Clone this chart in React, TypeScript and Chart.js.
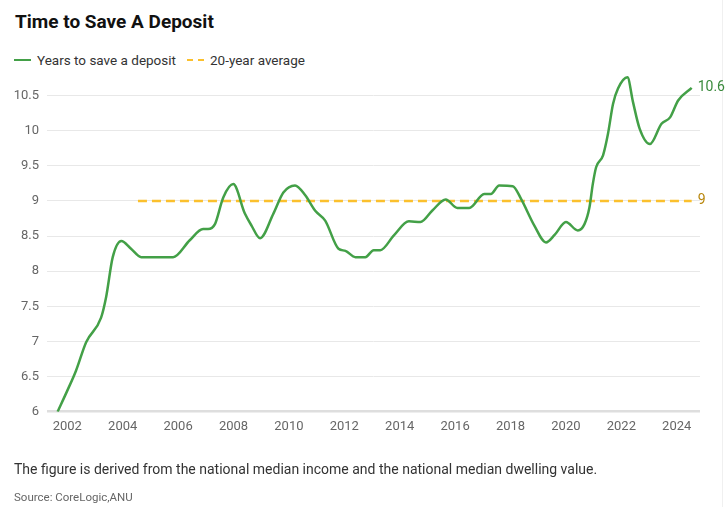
import React, { useEffect, useRef } from "react";
import { Chart, registerables } from "chart.js";

Chart.register(...registerables);

const FONT = "Roboto, 'Noto Sans', sans-serif";

// Years (fractional, quarterly-ish) and "years to save a deposit"
const years: number[] = [
  2001.65, 2002.0, 2002.31, 2002.68, 2003.22, 2003.4, 2003.64, 2003.95, 2004.3, 2004.67,
  2005.21, 2005.82, 2006.42, 2006.9, 2007.08, 2007.33, 2007.63, 2007.99, 2008.41, 2008.65,
  2008.96, 2009.44, 2009.8, 2010.22, 2010.59, 2010.95, 2011.31, 2011.79, 2012.04, 2012.4,
  2012.76, 2013.06, 2013.3, 2013.79, 2014.33, 2014.75, 2015.17, 2015.66, 2016.08, 2016.51,
  2017.05, 2017.29, 2017.59, 2018.08, 2018.38, 2018.86, 2019.28, 2019.6, 2020.0, 2020.43,
  2020.67, 2020.85, 2020.97, 2021.09, 2021.34, 2021.52, 2021.7, 2021.88, 2022.22, 2022.42,
  2022.66, 2023.03, 2023.45, 2023.76, 2024.05, 2024.54,
];
const deposit: number[] = [
  6.0, 6.3, 6.58, 6.99, 7.34, 7.63, 8.2, 8.43, 8.32, 8.2,
  8.2, 8.2, 8.44, 8.6, 8.6, 8.67, 9.05, 9.24, 8.82, 8.65,
  8.47, 8.82, 9.12, 9.22, 9.08, 8.86, 8.72, 8.32, 8.29, 8.2,
  8.2, 8.3, 8.3, 8.51, 8.71, 8.7, 8.86, 9.02, 8.9, 8.9,
  9.1, 9.1, 9.22, 9.21, 9.03, 8.65, 8.41, 8.52, 8.7, 8.58,
  8.67, 8.91, 9.24, 9.48, 9.65, 9.96, 10.38, 10.6, 10.76, 10.41,
  10.03, 9.81, 10.1, 10.19, 10.43, 10.61,
];
const avgYears: number[] = [2004.55, 2024.54];
const avgValues: number[] = [9, 9];
const xTickYears: number[] = [2002, 2004, 2006, 2008, 2010, 2012, 2014, 2016, 2018, 2020, 2022, 2024];
const yTicks: number[] = [6, 6.5, 7, 7.5, 8, 8.5, 9, 9.5, 10, 10.5];
const lastLabel = "10.6";
const avgLabel = "9";

const GREEN = "#43a047";
const YELLOW = "#fbc02d";

const endLabels = {
  id: "endLabels",
  afterDatasetsDraw(chart: any) {
    const ctx = chart.ctx;
    ctx.save();
    ctx.font = `14px ${FONT}`;
    ctx.textAlign = "left";
    ctx.textBaseline = "middle";
    const m0 = chart.getDatasetMeta(0);
    const p0 = m0.data[m0.data.length - 1];
    ctx.fillStyle = "#3a8a3c";
    ctx.fillText(lastLabel, p0.x + 6, p0.y);
    const m1 = chart.getDatasetMeta(1);
    const p1 = m1.data[m1.data.length - 1];
    ctx.fillStyle = "#b8860b";
    ctx.fillText(avgLabel, p1.x + 6, p1.y);
    ctx.restore();
  },
};

export default function App() {
  const ref = useRef<HTMLCanvasElement | null>(null);
  useEffect(() => {
    if (!ref.current) return;
    const chart = new Chart(ref.current, {
      type: "line",
      data: {
        datasets: [
          {
            label: "Years to save a deposit",
            data: years.map((x, i) => ({ x, y: deposit[i] })),
            borderColor: GREEN,
            borderWidth: 2.5,
            pointRadius: 0,
            cubicInterpolationMode: "monotone",
            fill: false,
          },
          {
            label: "20-year average",
            data: avgYears.map((x, i) => ({ x, y: avgValues[i] })),
            borderColor: YELLOW,
            borderWidth: 2.5,
            borderDash: [9, 5],
            pointRadius: 0,
            fill: false,
          },
        ],
      },
      options: {
        responsive: false,
        animation: false,
        layout: { padding: { left: 0, right: 28, top: 74.5, bottom: 73.3 } },
        plugins: { legend: { display: false }, tooltip: { enabled: false }, title: { display: false } },
        scales: {
          x: {
            type: "linear",
            min: 2001.267,
            max: 2024.84,
            border: { display: false },
            grid: { display: false, drawTicks: false },
            afterBuildTicks: (s: any) => {
              s.ticks = xTickYears.map((v) => ({ value: v }));
            },
            afterFit: (s: any) => {
              s.height = 30;
            },
            ticks: {
              padding: 7,
              color: "#666",
              font: { family: FONT, size: 13 },
              maxRotation: 0,
              autoSkip: false,
              callback: (v: any) => String(v),
            },
          },
          y: {
            type: "linear",
            min: 6,
            max: 10.8,
            border: { display: false },
            afterBuildTicks: (s: any) => {
              s.ticks = yTicks.map((v) => ({ value: v }));
            },
            afterFit: (s: any) => {
              s.width = 47;
            },
            grid: {
              drawTicks: false,
              color: (c: any) => (c.tick && c.tick.value === 6 ? "#dedede" : "#e8e8e8"),
              lineWidth: (c: any) => (c.tick && c.tick.value === 6 ? 2.5 : 1),
            },
            ticks: {
              padding: 8,
              color: "#666",
              font: { family: FONT, size: 13 },
              callback: (v: any) => String(v),
            },
          },
        },
      },
      plugins: [endLabels],
    } as any);
    return () => chart.destroy();
  }, []);

  return (
    <div style={{ position: "absolute", left: 0, top: 0, width: 728, height: 515, fontFamily: FONT, background: "#fff" }}>
      <div style={{ position: "absolute", left: 722, top: 0, width: 1, height: 507, background: "#f0f0f0" }} />
      <div style={{ position: "absolute", left: 15, top: 10, fontSize: 19, fontWeight: 700, color: "#111", lineHeight: "24px", whiteSpace: "nowrap" }}>
        Time to Save A Deposit
      </div>
      <div style={{ position: "absolute", left: 14, top: 50, height: 20, display: "flex", alignItems: "center", fontSize: 13.5, color: "#333", whiteSpace: "nowrap" }}>
        <span style={{ display: "inline-block", width: 17, height: 2.5, background: GREEN, marginRight: 6 }} />
        <span>Years to save a deposit</span>
        <span style={{ display: "inline-block", width: 17, marginLeft: 11, marginRight: 6, height: 2.5, backgroundImage: `linear-gradient(to right, ${YELLOW} 0 6px, transparent 6px 11px, ${YELLOW} 11px 17px)` }} />
        <span>20-year average</span>
      </div>
      <canvas ref={ref} width={728} height={515} style={{ position: "absolute", left: 0, top: 0, width: 728, height: 515 }} />
      <div style={{ position: "absolute", left: 14, top: 459, fontSize: 14, color: "#333", lineHeight: "20px", whiteSpace: "nowrap" }}>
        The figure is derived from the national median income and the national median dwelling value.
      </div>
      <div style={{ position: "absolute", left: 14, top: 488, fontSize: 11.5, color: "#666", lineHeight: "18px", whiteSpace: "nowrap" }}>
        Source: CoreLogic,ANU
      </div>
    </div>
  );
}
